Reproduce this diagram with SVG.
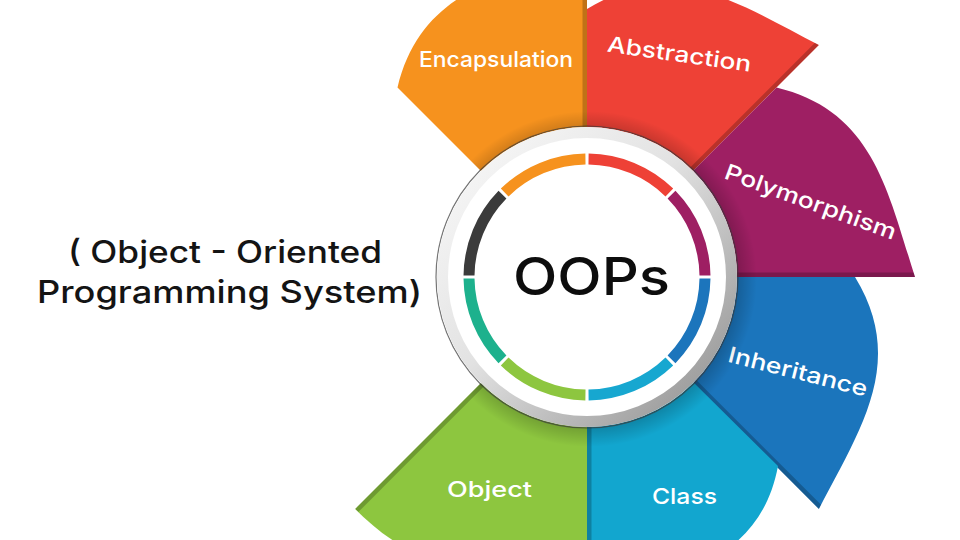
<svg xmlns="http://www.w3.org/2000/svg" xmlns:xlink="http://www.w3.org/1999/xlink" width="960" height="540" viewBox="0 0 960 540">
  <style>
    .lbl { font-family: "Inter", "Open Sans", "Noto Sans", sans-serif; font-weight: 500; font-size: 22px; fill: #ffffff; text-anchor: middle; }
    .title { font-family: "Inter", "Open Sans", "Noto Sans", sans-serif; font-weight: 500; font-size: 31px; fill: #141414; text-anchor: middle; }
    .oops { font-family: "Inter", "Open Sans", "Noto Sans", sans-serif; font-weight: 500; font-size: 52px; fill: #0d0d0d; text-anchor: middle; }
    .band { stroke: #000; stroke-opacity: 0.22; stroke-width: 9; fill: none; }
    .seg { fill: none; stroke-width: 11; }
  </style>
  <defs>
    <path id="p-orange" d="M587 277 L397.5 87.5 C420.8 -9.4 501.1 -23.6 587 -51 Z"/>
    <path id="p-red" d="M587 277 L587 9 C672 -43 738.8 3.7 818.9 45.1 Z"/>
    <path id="p-purple" d="M587 277 L776.5 87.5 C873.4 110.8 887.6 191.1 915 277 Z"/>
    <path id="p-blue" d="M587 277 L855 277 C907 362 860.3 428.8 818.9 508.9 Z"/>
    <path id="p-cyan" d="M587 277 L778 466 C760 563 672.9 577.6 587 605 Z"/>
    <path id="p-green" d="M587 277 L587 545 C502 597 415 570 355.1 508.9 Z"/>
    <clipPath id="c-orange"><use xlink:href="#p-orange"/></clipPath>
    <clipPath id="c-red"><use xlink:href="#p-red"/></clipPath>
    <clipPath id="c-purple"><use xlink:href="#p-purple"/></clipPath>
    <clipPath id="c-blue"><use xlink:href="#p-blue"/></clipPath>
    <clipPath id="c-cyan"><use xlink:href="#p-cyan"/></clipPath>
    <clipPath id="c-green"><use xlink:href="#p-green"/></clipPath>
    <clipPath id="c-all">
      <use xlink:href="#p-orange"/><use xlink:href="#p-red"/><use xlink:href="#p-purple"/>
      <use xlink:href="#p-blue"/><use xlink:href="#p-cyan"/><use xlink:href="#p-green"/>
    </clipPath>
    <radialGradient id="g-shadow" gradientUnits="userSpaceOnUse" cx="589" cy="279" r="168">
      <stop offset="0" stop-color="#000" stop-opacity="0.22"/>
      <stop offset="0.88" stop-color="#000" stop-opacity="0.2"/>
      <stop offset="1" stop-color="#000" stop-opacity="0"/>
    </radialGradient>
    <linearGradient id="g-rim" x1="0" y1="0" x2="1" y2="1">
      <stop offset="0" stop-color="#fbfbfb"/>
      <stop offset="0.45" stop-color="#e2e2e2"/>
      <stop offset="0.85" stop-color="#a3a3a3"/>
      <stop offset="1" stop-color="#929292"/>
    </linearGradient>
  </defs>

  <rect width="960" height="540" fill="#ffffff"/>

  <g id="node-encapsulation">
    <use xlink:href="#p-orange" fill="#F6921E"/>
    <line class="band" x1="587" y1="277" x2="587" y2="-51" clip-path="url(#c-orange)"/>
    <text class="lbl" x="496" y="67" textLength="154" lengthAdjust="spacingAndGlyphs">Encapsulation</text>
  </g>
  <g id="node-abstraction">
    <use xlink:href="#p-red" fill="#EE4136"/>
    <line class="band" x1="587" y1="277" x2="818.9" y2="45.1" clip-path="url(#c-red)"/>
    <text class="lbl" transform="translate(678.3 61.7) rotate(8)" x="0" y="0" textLength="145" lengthAdjust="spacingAndGlyphs">Abstraction</text>
  </g>
  <g id="node-polymorphism">
    <use xlink:href="#p-purple" fill="#9E1F63"/>
    <line class="band" x1="587" y1="277" x2="915" y2="277" clip-path="url(#c-purple)"/>
    <text class="lbl" transform="translate(808 209) rotate(20)" x="0" y="0" textLength="181" lengthAdjust="spacingAndGlyphs">Polymorphism</text>
  </g>
  <g id="node-inheritance">
    <use xlink:href="#p-blue" fill="#1B75BC"/>
    <line class="band" x1="587" y1="277" x2="818.9" y2="508.9" clip-path="url(#c-blue)"/>
    <text class="lbl" transform="translate(796 379) rotate(14.2)" x="0" y="0" textLength="143" lengthAdjust="spacingAndGlyphs">Inheritance</text>
  </g>
  <g id="node-class">
    <use xlink:href="#p-cyan" fill="#12A6CF"/>
    <line class="band" x1="587" y1="277" x2="587" y2="605" clip-path="url(#c-cyan)" stroke-width="6"/>
    <text class="lbl" x="684.5" y="504" textLength="65" lengthAdjust="spacingAndGlyphs">Class</text>
  </g>
  <g id="node-object">
    <use xlink:href="#p-green" fill="#8DC63F"/>
    <line class="band" x1="587" y1="277" x2="355.1" y2="508.9" clip-path="url(#c-green)" stroke-width="6"/>
    <text class="lbl" x="489.5" y="497" textLength="85" lengthAdjust="spacingAndGlyphs">Object</text>
  </g>

  <g id="disk-shadow" clip-path="url(#c-all)">
    <circle cx="589" cy="279" r="168" fill="url(#g-shadow)"/>
  </g>

  <g id="node-oops">
    <circle cx="587" cy="277" r="151" fill="none" stroke="#3a3a3a" stroke-width="1.2" stroke-opacity="0.7"/>
    <circle cx="587" cy="277" r="150" fill="#ffffff"/>
    <circle cx="587" cy="277" r="144.5" fill="none" stroke="url(#g-rim)" stroke-width="11"/>
    <path class="seg" stroke="#1C75BC" d="M704.99 278.55 A118 118 0 0 1 671.52 359.34"/>
    <path class="seg" stroke="#17A7D0" d="M669.34 361.52 A118 118 0 0 1 588.55 394.99"/>
    <path class="seg" stroke="#8DC63F" d="M585.45 394.99 A118 118 0 0 1 504.66 361.52"/>
    <path class="seg" stroke="#1DB18D" d="M502.48 359.34 A118 118 0 0 1 469.01 278.55"/>
    <path class="seg" stroke="#3B3B3B" d="M469.01 275.45 A118 118 0 0 1 502.48 194.66"/>
    <path class="seg" stroke="#F6921E" d="M504.66 192.48 A118 118 0 0 1 585.45 159.01"/>
    <path class="seg" stroke="#EE4136" d="M588.55 159.01 A118 118 0 0 1 669.34 192.48"/>
    <path class="seg" stroke="#9E1F63" d="M671.52 194.66 A118 118 0 0 1 704.99 275.45"/>
    <text class="oops" x="591.5" y="295" textLength="157" lengthAdjust="spacingAndGlyphs">OOPs</text>
  </g>

  <g id="node-title">
    <text class="title" x="225" y="263" textLength="314" lengthAdjust="spacingAndGlyphs">( Object - Oriented</text>
    <text class="title" x="229.5" y="303" textLength="385" lengthAdjust="spacingAndGlyphs">Programming System)</text>
  </g>
</svg>
